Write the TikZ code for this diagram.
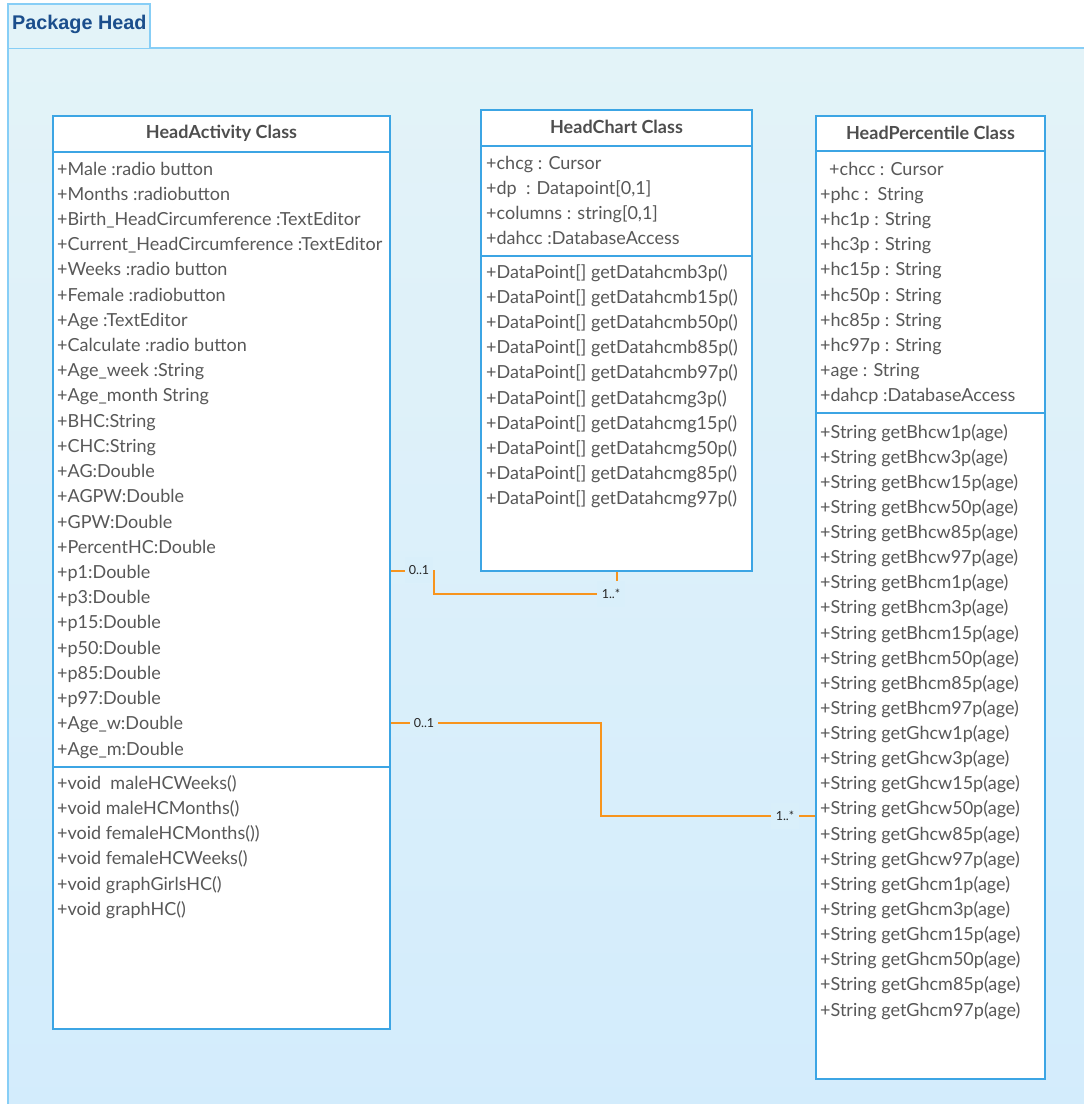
\documentclass[tikz,border=0pt]{standalone}
\usepackage{fontspec}
\setmainfont{Lato}
\newfontfamily\pkgfont{Liberation Sans}
\definecolor{pkgtop}{RGB}{227,243,248}
\definecolor{pkgbot}{RGB}{211,236,252}
\definecolor{pkgtab}{RGB}{227,243,248}
\definecolor{pkgborder}{RGB}{135,206,246}
\definecolor{clsborder}{RGB}{60,165,228}
\definecolor{txtgray}{RGB}{88,88,88}
\definecolor{hdrgray}{RGB}{78,78,78}
\definecolor{assocor}{RGB}{247,148,29}
\definecolor{pkgtxt}{RGB}{27,78,140}
\definecolor{labbg}{RGB}{217,239,250}
\begin{document}
\begin{tikzpicture}[x=1pt,y=-1pt,
  pkgline/.style={draw=pkgborder,line width=2pt},
  classbox/.style={draw=clsborder,line width=2pt,fill=white,inner sep=0pt,anchor=north west},
  classline/.style={draw=clsborder,line width=2pt},
  hdr/.style={font=\fontsize{18}{21}\selectfont\bfseries,text=hdrgray,inner sep=0pt},
  attr/.style={anchor=base west,inner sep=0pt,font=\fontsize{18}{21}\selectfont,text=txtgray},
  assoc/.style={draw=assocor,line width=2pt},
  mult/.style={fill=labbg,inner sep=0pt,minimum width=28pt,minimum height=26pt,font=\fontsize{12.5}{14}\selectfont,text=black!85}
]
\useasboundingbox (0,0) rectangle (1084,1104);
% package
\begin{scope}
  \clip (0,0) rectangle (1084,1104);
  \shade[top color=pkgtop,bottom color=pkgbot] (8,48) rectangle (1100,1120);
  \draw[pkgline] (8,1120) -- (8,48) -- (1100,48);
\end{scope}
\draw[pkgline,fill=pkgtab] (8,48) -- (8,4) -- (150,4) -- (150,48);
\node[anchor=west,inner sep=0pt,font=\pkgfont\fontsize{19.8}{22}\selectfont\bfseries,text=pkgtxt] (pkg) at (12,24) {Package Head};

% HeadActivity
\node[classbox,minimum width=337pt,minimum height=913pt] (ha) at (52,115) {};
\draw[classline] ([yshift=-37pt]ha.north west) -- ([yshift=-37pt]ha.north east);
\draw[classline] ([yshift=-652pt]ha.north west) -- ([yshift=-652pt]ha.north east);
\node[hdr] (ha-h) at ([yshift=-18pt]ha.north) {HeadActivity Class};
\foreach \t [count=\i from 0] in {
  {+Male :radio button},{+Months :radiobutton},{+Birth\_HeadCircumference :TextEditor},
  {+Current\_HeadCircumference :TextEditor},{+Weeks :radio button},{+Female :radiobutton},
  {+Age :TextEditor},{+Calculate :radio button},{+Age\_week :String},{+Age\_month String},
  {+BHC:String},{+CHC:String},{+AG:Double},{+AGPW:Double},{+GPW:Double},{+PercentHC:Double},
  {+p1:Double},{+p3:Double},{+p15:Double},{+p50:Double},{+p85:Double},{+p97:Double},
  {+Age\_w:Double},{+Age\_m:Double}}
  \node[attr] (ha-a\i) at (57,175+25.22*\i) {\t};
\foreach \t [count=\i from 0] in {
  {+void\ \ maleHCWeeks()},{+void maleHCMonths()},{+void femaleHCMonths())},
  {+void femaleHCWeeks()},{+void graphGirlsHC()},{+void graphHC()}}
  \node[attr] (ha-m\i) at (57,789+25.3*\i) {\t};

% HeadChart
\node[classbox,minimum width=271pt,minimum height=461pt] (hc) at (480,109) {};
\draw[classline] ([yshift=-37pt]hc.north west) -- ([yshift=-37pt]hc.north east);
\draw[classline] ([yshift=-147pt]hc.north west) -- ([yshift=-147pt]hc.north east);
\node[hdr] (hc-h) at ([yshift=-18pt]hc.north) {HeadChart Class};
\foreach \t [count=\i from 0] in {
  {+chcg : Cursor},{+dp\ \ : Datapoint[0,1]},{+columns : string[0,1]},{+dahcc :DatabaseAccess}}
  \node[attr] (hc-a\i) at (486,169+25.3*\i) {\t};
\foreach \t [count=\i from 0] in {
  {+DataPoint[] getDatahcmb3p()},{+DataPoint[] getDatahcmb15p()},{+DataPoint[] getDatahcmb50p()},
  {+DataPoint[] getDatahcmb85p()},{+DataPoint[] getDatahcmb97p()},{+DataPoint[] getDatahcmg3p()},
  {+DataPoint[] getDatahcmg15p()},{+DataPoint[] getDatahcmg50p()},{+DataPoint[] getDatahcmg85p()},
  {+DataPoint[] getDatahcmg97p()}}
  \node[attr] (hc-m\i) at (486,278+25.22*\i) {\t};

% HeadPercentile
\node[classbox,minimum width=229pt,minimum height=963pt] (hp) at (815,115) {};
\draw[classline] ([yshift=-36pt]hp.north west) -- ([yshift=-36pt]hp.north east);
\draw[classline] ([yshift=-298pt]hp.north west) -- ([yshift=-298pt]hp.north east);
\node[hdr] (hp-h) at ([yshift=-17.5pt]hp.north) {HeadPercentile Class};
\foreach \t [count=\i from 0] in {
  {\hspace*{9pt}+chcc : Cursor},{+phc :\ \ String},{+hc1p : String},{+hc3p : String},
  {+hc15p : String},{+hc50p : String},{+hc85p : String},{+hc97p : String},
  {+age : String},{+dahcp :DatabaseAccess}}
  \node[attr] (hp-a\i) at (820,175+25.22*\i) {\t};
\foreach \t [count=\i from 0] in {
  {+String getBhcw1p(age)},{+String getBhcw3p(age)},{+String getBhcw15p(age)},
  {+String getBhcw50p(age)},{+String getBhcw85p(age)},{+String getBhcw97p(age)},
  {+String getBhcm1p(age)},{+String getBhcm3p(age)},{+String getBhcm15p(age)},
  {+String getBhcm50p(age)},{+String getBhcm85p(age)},{+String getBhcm97p(age)},
  {+String getGhcw1p(age)},{+String getGhcw3p(age)},{+String getGhcw15p(age)},
  {+String getGhcw50p(age)},{+String getGhcw85p(age)},{+String getGhcw97p(age)},
  {+String getGhcm1p(age)},{+String getGhcm3p(age)},{+String getGhcm15p(age)},
  {+String getGhcm50p(age)},{+String getGhcm85p(age)},{+String getGhcm97p(age)}}
  \node[attr] (hp-m\i) at (820,438+25.13*\i) {\t};

% associations
\coordinate (j1) at (434,571);
\coordinate (j2) at (617,594);
\draw[assoc] (ha.east |- j1) -- (j1) -- (j1 |- j2) -- (j2) -- (hc.south -| j2);
\node[mult] (m1) at (419,570) {0..1};
\node[mult] (m2) at (611,594) {1..*};

\coordinate (k1) at (601,723);
\coordinate (k2) at (601,816);
\draw[assoc] (ha.east |- k1) -- (k1) -- (k2) -- (hp.west |- k2);
\node[mult] (m3) at (424,723) {0..1};
\node[mult] (m4) at (785,816) {1..*};
\end{tikzpicture}
\end{document}
